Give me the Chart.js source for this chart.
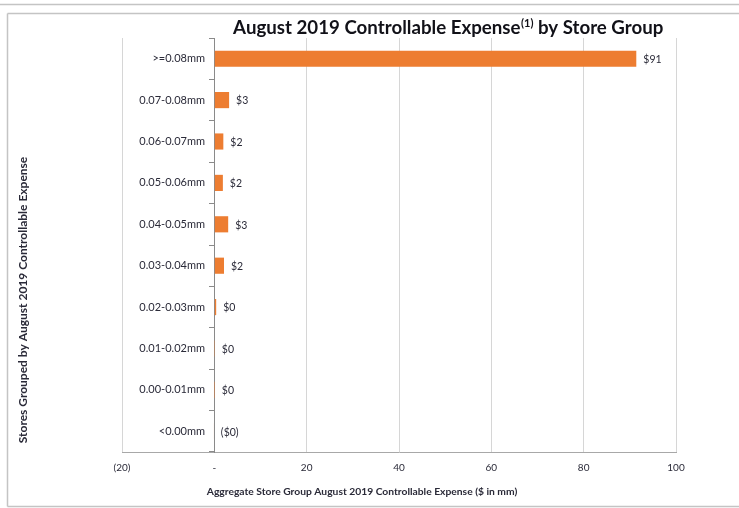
<!DOCTYPE html>
<html>
<head>
<meta charset="utf-8">
<script src="https://cdn.jsdelivr.net/npm/chart.js@4.4.1/dist/chart.umd.min.js"></script>
<style>
  html, body { margin: 0; padding: 0; background: #fff; }
  #wrap { position: relative; width: 739px; height: 508px; }
  canvas { display: block; }
</style>
</head>
<body>
<div id="wrap"><canvas id="chart" width="739" height="508"></canvas></div>
<script>
// Store groups (by per-store controllable expense) and their aggregate expense, $ in mm
const storeGroups = [
  '>=0.08mm', '0.07-0.08mm', '0.06-0.07mm', '0.05-0.06mm', '0.04-0.05mm',
  '0.03-0.04mm', '0.02-0.03mm', '0.01-0.02mm', '0.00-0.01mm', '<0.00mm'
];
const aggregateExpense = [91.4, 3.2, 1.95, 1.85, 3.0, 2.1, 0.4, 0.04, 0.02, -0.1];

const xMin = -20;
const xMax = 100;
const xStep = 20;

const titleMain = 'August 2019 Controllable Expense';
const titleNote = '(1)';
const titleTail = ' by Store Group';
const xAxisTitle = 'Aggregate Store Group August 2019 Controllable Expense ($ in mm)';
const yAxisTitle = 'Stores Grouped by August 2019 Controllable Expense';

const FONT = 'Lato, "Open Sans", "Liberation Sans", sans-serif';
const TEXT = '#2a2a38';
const BAR = '#ED7D31';
const NAME_FONT_SIZE = 11;

function money(v) {
  const r = Math.round(Math.abs(v));
  return v < 0 ? '($' + r + ')' : '$' + r;
}
function xTick(v) {
  if (v === 0) return '-';
  if (v < 0) return '(' + Math.abs(v) + ')';
  return String(v);
}

// Group names end 83px right of the chart's left edge (just short of the zero line);
// the mirrored label axis aligns them at left + padding + widest label.
const measureCtx = document.createElement('canvas').getContext('2d');
measureCtx.font = NAME_FONT_SIZE + 'px ' + FONT;
const widestName = Math.max(...storeGroups.map(s => measureCtx.measureText(s).width));
const namePadding = 83 - widestName;

// Page frame, title and axis titles
const decorations = {
  id: 'decorations',
  beforeDraw(chart) {
    const ctx = chart.ctx;
    ctx.save();
    ctx.strokeStyle = '#c4c4c4';
    ctx.lineWidth = 1.5;
    ctx.beginPath();
    ctx.moveTo(0, 4.5); ctx.lineTo(739, 4.5);
    ctx.moveTo(7.5, 13.5); ctx.lineTo(739, 13.5);
    ctx.moveTo(7.5, 13.5); ctx.lineTo(7.5, 506.5);
    ctx.moveTo(7.5, 506.5); ctx.lineTo(739, 506.5);
    ctx.stroke();
    ctx.restore();
  },
  afterDraw(chart) {
    const ctx = chart.ctx;
    ctx.save();
    ctx.fillStyle = '#111118';
    ctx.textBaseline = 'alphabetic';
    // chart title with superscript note marker
    const big = 'bold 18.7px ' + FONT;
    const small = 'bold 11px ' + FONT;
    ctx.font = big;
    const w1 = ctx.measureText(titleMain).width;
    const w3 = ctx.measureText(titleTail).width;
    ctx.font = small;
    const w2 = ctx.measureText(titleNote).width;
    const total = w1 + w2 + w3;
    let x = 448 - total / 2;
    const baseY = 34;
    ctx.textAlign = 'left';
    ctx.font = big;
    ctx.fillText(titleMain, x, baseY);
    x += w1;
    ctx.font = small;
    ctx.fillText(titleNote, x + 0.5, baseY - 7);
    x += w2 + 0.5;
    ctx.font = big;
    ctx.fillText(titleTail, x, baseY);

    // axis titles
    ctx.fillStyle = TEXT;
    ctx.textAlign = 'center';
    ctx.textBaseline = 'middle';
    ctx.font = 'bold 10.3px ' + FONT;
    ctx.fillText(xAxisTitle, 362, 492);
    ctx.translate(23, 300);
    ctx.rotate(-Math.PI / 2);
    ctx.font = 'bold 12px ' + FONT;
    ctx.fillText(yAxisTitle, 0, 0);
    ctx.restore();
  }
};

// Value labels just past the end of each bar
const valueLabels = {
  id: 'valueLabels',
  afterDatasetsDraw(chart) {
    const ctx = chart.ctx;
    const meta = chart.getDatasetMeta(0);
    const values = chart.data.datasets[0].data;
    ctx.save();
    ctx.font = '10.5px ' + FONT;
    ctx.fillStyle = TEXT;
    ctx.textAlign = 'left';
    ctx.textBaseline = 'middle';
    meta.data.forEach((bar, i) => {
      const end = Math.max(bar.x, bar.base);
      ctx.fillText(money(values[i]), end + 7, bar.y + 1);
    });
    ctx.restore();
  }
};

new Chart(document.getElementById('chart'), {
  type: 'bar',
  data: {
    labels: storeGroups,
    datasets: [{
      data: aggregateExpense,
      backgroundColor: BAR,
      borderWidth: 0,
      barPercentage: 0.39,
      categoryPercentage: 1.0
    }]
  },
  options: {
    indexAxis: 'y',
    responsive: false,
    devicePixelRatio: 1,
    animation: false,
    layout: { padding: { left: 122, right: 63, top: 38, bottom: 0 } },
    plugins: {
      legend: { display: false },
      title: { display: false },
      tooltip: { enabled: false }
    },
    scales: {
      x: {
        type: 'linear',
        min: xMin,
        max: xMax,
        ticks: {
          stepSize: xStep,
          callback: (v) => xTick(v),
          font: { family: FONT, size: 10 },
          color: TEXT,
          padding: 10,
          maxRotation: 0
        },
        grid: {
          drawTicks: false,
          color: (c) => (c.tick && c.tick.value === 0 ? 'rgba(0,0,0,0)' : '#d6d6d6'),
          lineWidth: 1
        },
        border: { display: true, color: '#a8a8a8', width: 1 },
        afterFit(scale) { scale.height = 56; }
      },
      // category axis drawn at x = 0 with short tick marks between groups
      y: {
        type: 'category',
        position: { x: 0 },
        ticks: { display: false },
        grid: {
          drawOnChartArea: false,
          drawTicks: true,
          tickLength: 5,
          color: '#8a8a8a',
          offset: true
        },
        border: { display: true, color: '#8a8a8a', width: 1 }
      },
      // group names, right-aligned just left of the zero line
      yNames: {
        type: 'category',
        position: 'left',
        labels: storeGroups,
        grid: { display: false, drawTicks: false },
        border: { display: false },
        ticks: {
          font: { family: FONT, size: NAME_FONT_SIZE },
          color: TEXT,
          mirror: true,
          crossAlign: 'far',
          padding: namePadding,
          autoSkip: false
        },
        afterFit(scale) { scale.width = 0; }
      }
    }
  },
  plugins: [decorations, valueLabels]
});
</script>
</body>
</html>
